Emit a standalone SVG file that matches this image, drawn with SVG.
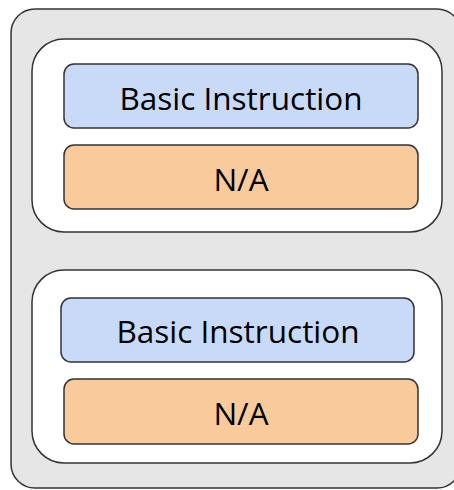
<svg xmlns="http://www.w3.org/2000/svg" width="454" height="490" viewBox="0 0 454 490">
  <style>
    .frame { fill: #e6e6e6; stroke: #333; stroke-width: 1.5; }
    .slot { fill: #ffffff; stroke: #333; stroke-width: 1.5; }
    .instr { fill: #c9daf8; stroke: #333; stroke-width: 1.5; }
    .na { fill: #f9cb9c; stroke: #333; stroke-width: 1.5; }
    .label { font-family: "Open Sans", "Noto Sans", sans-serif; font-size: 31.5px; fill: #000; text-anchor: middle; }
  </style>
  <rect width="454" height="490" fill="#ffffff"/>
  <g id="frame">
    <rect class="frame" x="11" y="9" width="450" height="479" rx="24"/>
  </g>
  <g id="slot1">
    <rect class="slot" x="32" y="39" width="410" height="193" rx="32"/>
    <g id="instr1">
      <rect class="instr" x="64" y="64" width="354" height="64" rx="10"/>
      <text class="label" x="241" y="110">Basic Instruction</text>
    </g>
    <g id="na1">
      <rect class="na" x="64" y="145" width="354" height="64" rx="10"/>
      <text class="label" x="241" y="191">N/A</text>
    </g>
  </g>
  <g id="slot2">
    <rect class="slot" x="32" y="270" width="410" height="193" rx="32"/>
    <g id="instr2">
      <rect class="instr" x="61" y="298" width="353" height="64" rx="10"/>
      <text class="label" x="238" y="343">Basic Instruction</text>
    </g>
    <g id="na2">
      <rect class="na" x="64" y="379" width="354" height="65" rx="10"/>
      <text class="label" x="241" y="425">N/A</text>
    </g>
  </g>
  <g id="connectors"/>
</svg>
